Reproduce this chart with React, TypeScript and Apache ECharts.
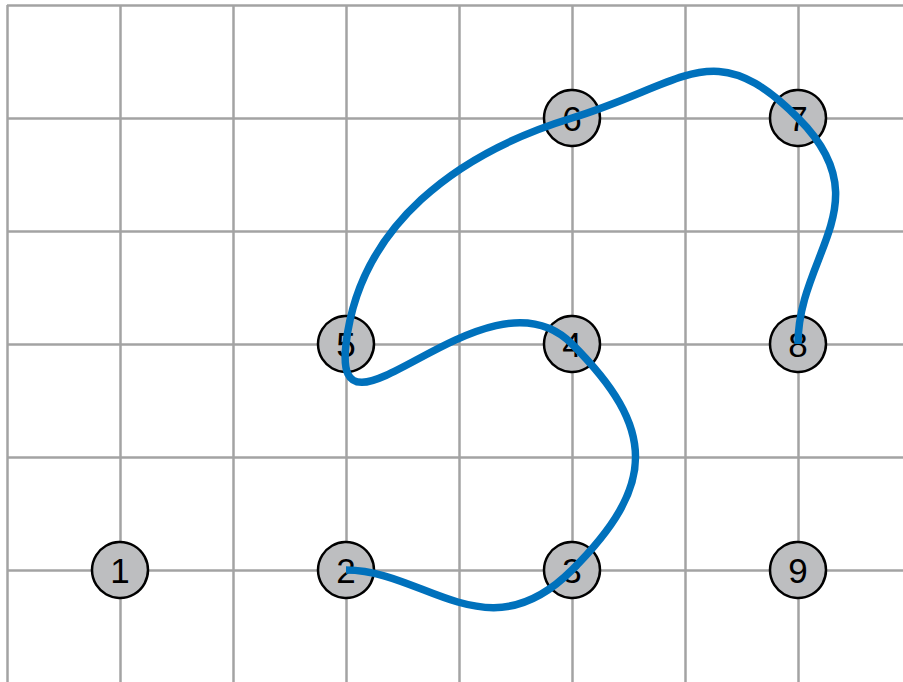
import React, { useEffect, useRef } from "react";
import * as echarts from "echarts";

// Grid-point markers
const pointLabels = ["1", "2", "3", "4", "5", "6", "7", "8", "9"];
const pointX = [1, 3, 5, 5, 3, 5, 7, 7, 7];
const pointY = [1, 1, 1, 3, 3, 5, 5, 3, 1];

// Order in which the smooth curve visits the markers
const curveOrder = ["2", "3", "4", "5", "6", "7", "8"];

// Axis extents (grid cells)
const xMin = 0;
const xMax = 8;
const yMin = 0;
const yMax = 6;

const BLUE = "#0071bc";

function norm(v: number[]) {
  const l = Math.hypot(v[0], v[1]) || 1;
  return [v[0] / l, v[1] / l];
}

// Smooth interpolating Bezier path through the pixel points
function buildPath(pts: number[][]): string {
  const n = pts.length;
  const seg: number[] = [];
  for (let i = 0; i < n - 1; i++) seg.push(Math.hypot(pts[i + 1][0] - pts[i][0], pts[i + 1][1] - pts[i][1]));
  const dir: number[][] = [];
  for (let i = 0; i < n; i++) {
    if (i === 0) { dir.push(norm([pts[1][0] - pts[0][0], pts[1][1] - pts[0][1]])); continue; }
    if (i === n - 1) { dir.push(norm([pts[n - 1][0] - pts[n - 2][0], pts[n - 1][1] - pts[n - 2][1]])); continue; }
    const ui = norm([pts[i][0] - pts[i - 1][0], pts[i][1] - pts[i - 1][1]]);
    const uo = norm([pts[i + 1][0] - pts[i][0], pts[i + 1][1] - pts[i][1]]);
    const wOut = 1 + 1.73 * Math.abs(Math.log(seg[i - 1] / seg[i]));
    dir.push(norm([ui[0] + wOut * uo[0], ui[1] + wOut * uo[1]]));
  }
  let d = `M${pts[0][0]},${pts[0][1]}`;
  for (let i = 0; i < n - 1; i++) {
    const a = pts[i], b = pts[i + 1], L = seg[i];
    let h0 = 0.53 * Math.min(L, i > 0 ? seg[i - 1] : L);
    let h1 = 0.53 * Math.min(L, i + 1 < n - 1 ? seg[i + 1] : L);
    if (i === 0) h0 = 0.35 * L;
    if (i === n - 2) h1 = 0.4 * L;
    d += ` C${a[0] + dir[i][0] * h0},${a[1] + dir[i][1] * h0} ${b[0] - dir[i + 1][0] * h1},${b[1] - dir[i + 1][1] * h1} ${b[0]},${b[1]}`;
  }
  return d;
}

export default function App() {
  const ref = useRef<HTMLDivElement>(null);

  useEffect(() => {
    if (!ref.current) return;
    const chart = echarts.init(ref.current, null, { renderer: "svg" });

    const scatterData = pointLabels.map((lab, i) => ({ name: lab, value: [pointX[i], pointY[i]] }));
    const curveData = curveOrder.map((lab) => {
      const i = pointLabels.indexOf(lab);
      return [pointX[i], pointY[i]];
    });

    const axisCommon = {
      type: "value" as const,
      interval: 1,
      axisLine: { show: false },
      axisTick: { show: false },
      axisLabel: { show: false },
      splitLine: {
        show: true,
        showMinLine: true,
        showMaxLine: true,
        lineStyle: { color: "#a3a3a3", width: 2.5 },
      },
    };

    chart.setOption({
      animation: false,
      backgroundColor: "#ffffff",
      grid: { left: 7, top: 5, width: 904, height: 678 },
      xAxis: { ...axisCommon, min: xMin, max: xMax },
      yAxis: { ...axisCommon, min: yMin, max: yMax },
      series: [
        {
          type: "scatter",
          data: scatterData,
          symbol: "circle",
          symbolSize: 56,
          z: 2,
          itemStyle: { color: "#bdbec0", borderColor: "#000000", borderWidth: 2.5, opacity: 1 },
          label: {
            show: true,
            position: "inside",
            formatter: (p: any) => p.name,
            fontSize: 35,
            color: "#000000",
            fontFamily: "Liberation Sans, Arial, sans-serif",
          },
          emphasis: { disabled: true },
        },
        {
          type: "custom",
          coordinateSystem: "cartesian2d",
          data: curveData,
          encode: { x: 0, y: 1 },
          z: 5,
          clip: false,
          renderItem: (params: any, api: any) => {
            if (params.dataIndexInside !== 0) return null;
            const pts: number[][] = [];
            for (let j = 0; j < params.dataInsideLength; j++) {
              pts.push(api.coord([api.value(0, j), api.value(1, j)]));
            }
            return {
              type: "path",
              shape: { pathData: buildPath(pts) },
              style: { fill: "none", stroke: BLUE, lineWidth: 7.5, lineCap: "butt", lineJoin: "round" },
            };
          },
        },
      ],
    });

    return () => chart.dispose();
  }, []);

  return (
    <div
      ref={ref}
      style={{ position: "fixed", left: 0, top: 0, width: 912, height: 690, background: "#fff" }}
    />
  );
}
